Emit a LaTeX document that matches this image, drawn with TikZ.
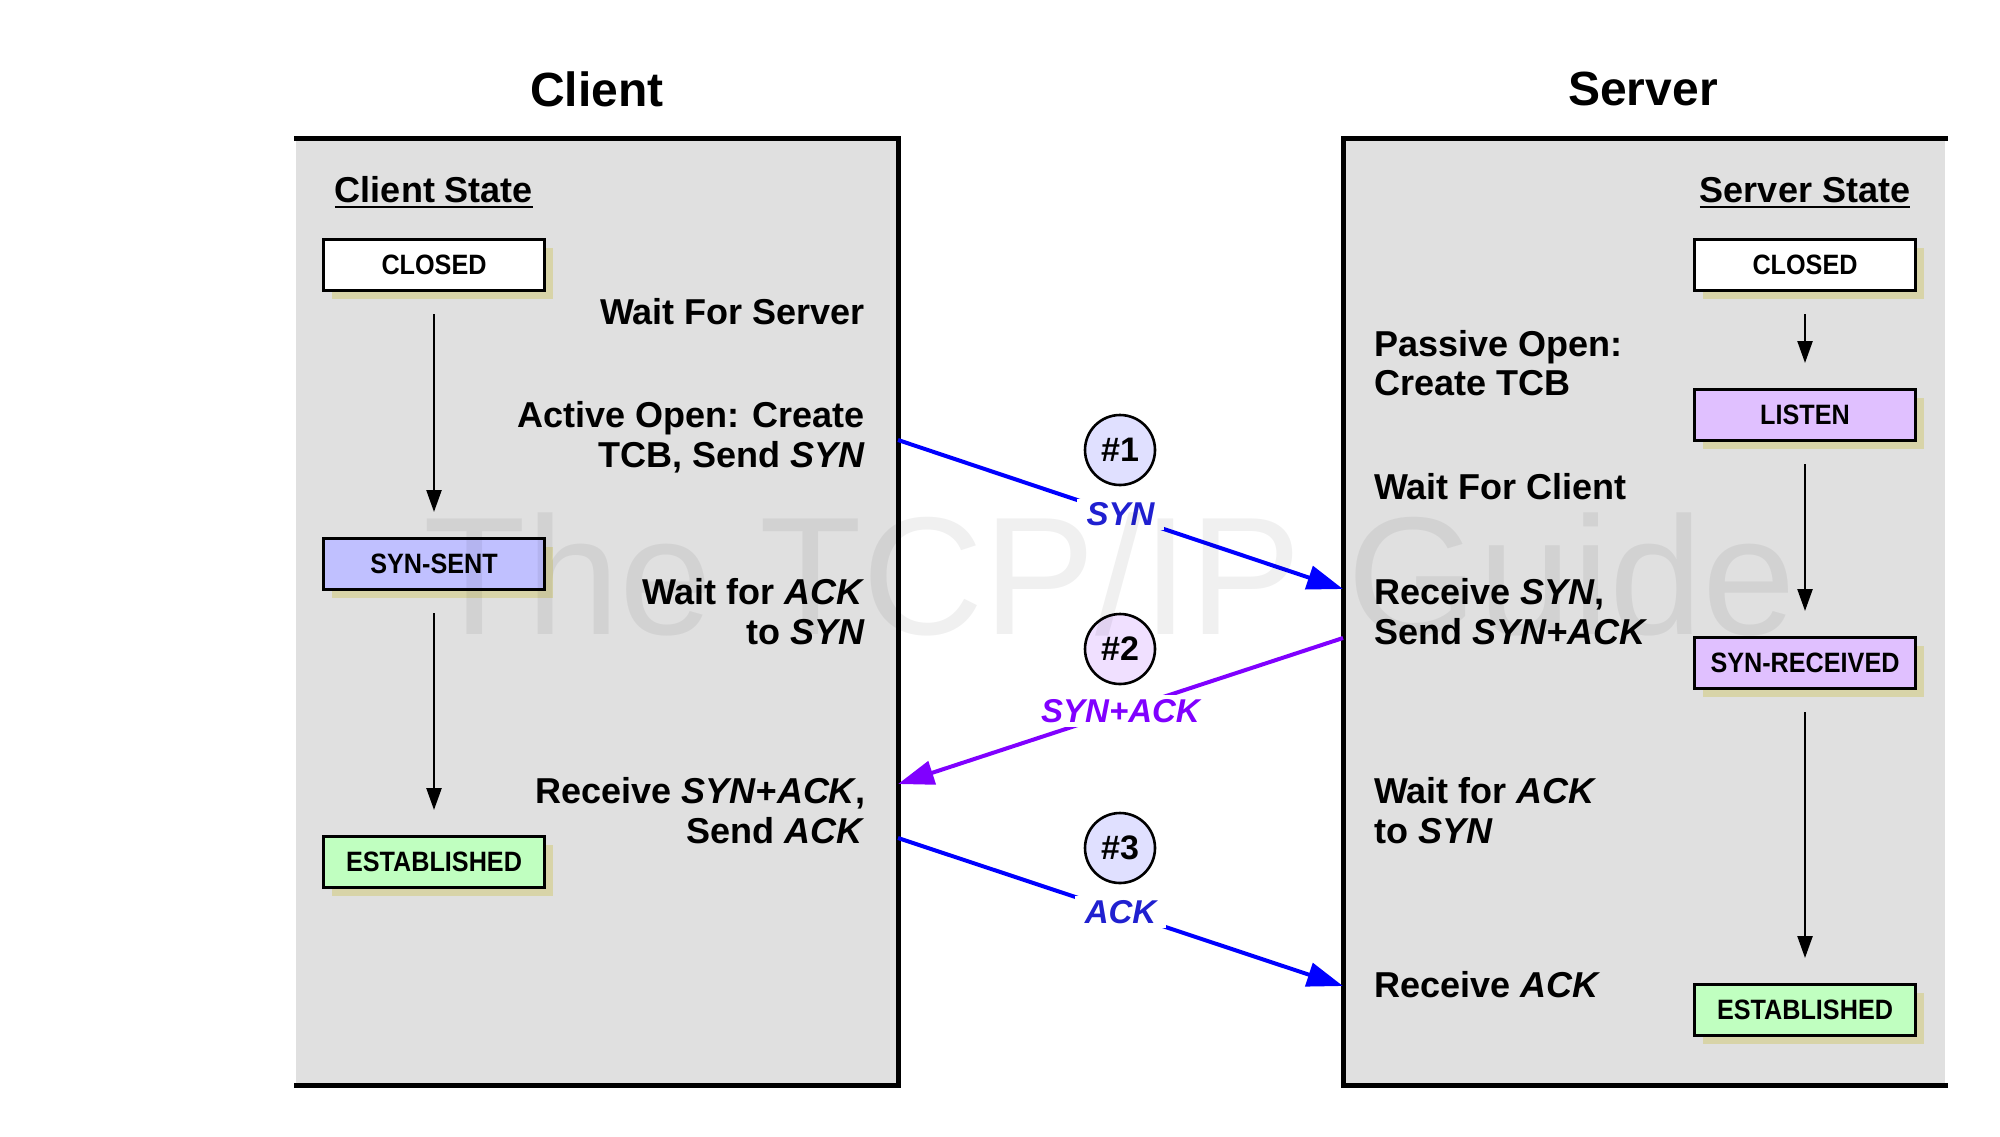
\documentclass[tikz,border=0pt]{standalone}
\usepackage{fontspec}
\setmainfont{Liberation Sans}
\usepackage{graphicx}
\usetikzlibrary{arrows.meta,shadows}
\definecolor{boxgray}{HTML}{E0E0E0}
\definecolor{shadowc}{HTML}{D8D4A8}
\definecolor{sentc}{HTML}{C0C0FF}
\definecolor{recvc}{HTML}{E0C0FF}
\definecolor{estc}{HTML}{C0FFC0}
\definecolor{msgblue}{HTML}{0000FF}
\definecolor{msgpurple}{HTML}{8000FF}
\definecolor{lblblue}{HTML}{2020D0}
\definecolor{circa}{HTML}{E0E0FF}
\definecolor{circb}{HTML}{F0E0FF}
\newcommand{\stlabel}[1]{\scalebox{0.9}[1]{#1}}
\begin{document}
\begin{tikzpicture}[x=0.5pt,y=-0.5pt,
  bigtitle/.style={font=\fontsize{24}{28}\selectfont\bfseries},
  sidetxt/.style={font=\fontsize{18}{19.75}\selectfont\bfseries, inner sep=0pt, outer sep=0pt},
  ctxt/.style={sidetxt, align=right, anchor=east},
  stxt/.style={sidetxt, align=left, anchor=west},
  statebox/.style={draw, line width=1.5pt, minimum width=110.5pt, minimum height=25.5pt, inner sep=0pt,
    font=\fontsize{14}{16}\selectfont\bfseries,
    drop shadow={shadow xshift=4pt, shadow yshift=-4pt, fill=shadowc, opacity=1}},
  trans/.style={line width=1.2pt, -{Triangle[length=11pt,width=7.5pt]}, shorten <=11pt, shorten >=12.5pt},
  msg/.style={line width=2pt, -{Triangle[length=18pt,width=12pt]}},
  msgnum/.style={circle, draw, line width=1.3pt, minimum size=35pt, inner sep=0pt,
    font=\fontsize{17}{20}\selectfont\bfseries},
  msglbl/.style={fill=white, inner xsep=5pt, inner ysep=2pt,
    font=\fontsize{16.5}{20}\selectfont\bfseries\itshape},
  panel/.style={line width=2.5pt, line join=miter, line cap=rect}
]
\useasboundingbox (0,0) rectangle (2000,1136);
\fill[white] (0,0) rectangle (2000,1136);

% titles
\node[bigtitle] (tclient) at (597,89) {Client};
\node[bigtitle] (tserver) at (1643,89) {Server};

% panels
\fill[boxgray] (296,138) rectangle (898,1085);
\draw[panel] (296,138) -- (898,138) -- (898,1085) -- (296,1085);
\fill[boxgray] (1343,138) rectangle (1945,1085);
\draw[panel] (1945,138) -- (1343,138) -- (1343,1085) -- (1945,1085);

% state headings
\node[sidetxt, anchor=base] (cstate) at (434,202) {Client State};
\draw[line width=1.3pt] ([yshift=-2.5pt]cstate.base west) -- ([yshift=-2.5pt]cstate.base east);
\node[sidetxt, anchor=base] (sstate) at (1805,202) {Server State};
\draw[line width=1.3pt] ([yshift=-2.5pt]sstate.base west) -- ([yshift=-2.5pt]sstate.base east);

% client states
\node[statebox, fill=white] (cclosed) at (434,265) {\stlabel{CLOSED}};
\node[statebox, fill=sentc] (csent) at (434,564) {\stlabel{SYN-SENT}};
\node[statebox, fill=estc] (cest) at (434,862) {\stlabel{ESTABLISHED}};
\draw[trans] (cclosed) -- (csent);
\draw[trans] (csent) -- (cest);

% server states
\node[statebox, fill=white] (sclosed) at (1805,265) {\stlabel{CLOSED}};
\node[statebox, fill=recvc] (slisten) at (1805,415) {\stlabel{LISTEN}};
\node[statebox, fill=recvc] (srecv) at (1805,663) {\stlabel{SYN-RECEIVED}};
\node[statebox, fill=estc] (sest) at (1805,1010) {\stlabel{ESTABLISHED}};
\draw[trans] (sclosed) -- (slisten);
\draw[trans] (slisten) -- (srecv);
\draw[trans] (srecv) -- (sest);

% client side texts
\node[ctxt] (cwait) at (865,312) {Wait For Server};
\node[ctxt] (copen) at (865,437) {Active Open: Create\\TCB, Send \textit{SYN}};
\node[ctxt] (cwack) at (865,611.5) {Wait for \textit{ACK}\\to \textit{SYN}};
\node[ctxt] (crecv) at (865,810.5) {Receive \textit{SYN+ACK},\\Send \textit{ACK}};

% server side texts
\node[stxt] (spass) at (1374,363) {Passive Open:\\Create TCB};
\node[stxt] (swait) at (1374,487) {Wait For Client};
\node[stxt] (srecvt) at (1374,611.5) {Receive \textit{SYN},\\Send \textit{SYN+ACK}};
\node[stxt] (swack) at (1374,810.5) {Wait for \textit{ACK}\\to \textit{SYN}};
\node[stxt] (sack) at (1374,985) {Receive \textit{ACK}};

% messages
\coordinate (m1a) at (898,440);
\coordinate (m1b) at (1343,589);
\coordinate (m2a) at (1343,638);
\coordinate (m2b) at (898,784);
\coordinate (m3a) at (898,838);
\coordinate (m3b) at (1343,986);
\draw[msg, msgblue] (m1a) -- node[msglbl, text=lblblue] (l1) {SYN} (m1b);
\draw[msg, msgpurple] (m2a) -- node[msglbl, text=msgpurple] (l2) {SYN+ACK} (m2b);
\draw[msg, msgblue] (m3a) -- node[msglbl, text=lblblue] (l3) {ACK} (m3b);
\node[msgnum, fill=circa] (n1) at (1120,450) {\#1};
\node[msgnum, fill=circb] (n2) at (1120,649) {\#2};
\node[msgnum, fill=circa] (n3) at (1120,848) {\#3};

% watermark
\node[anchor=base, font=\fontsize{84}{90}\selectfont, text=black, text opacity=0.06] (wm) at (1110,634) {The TCP/IP Guide};
\end{tikzpicture}
\end{document}
